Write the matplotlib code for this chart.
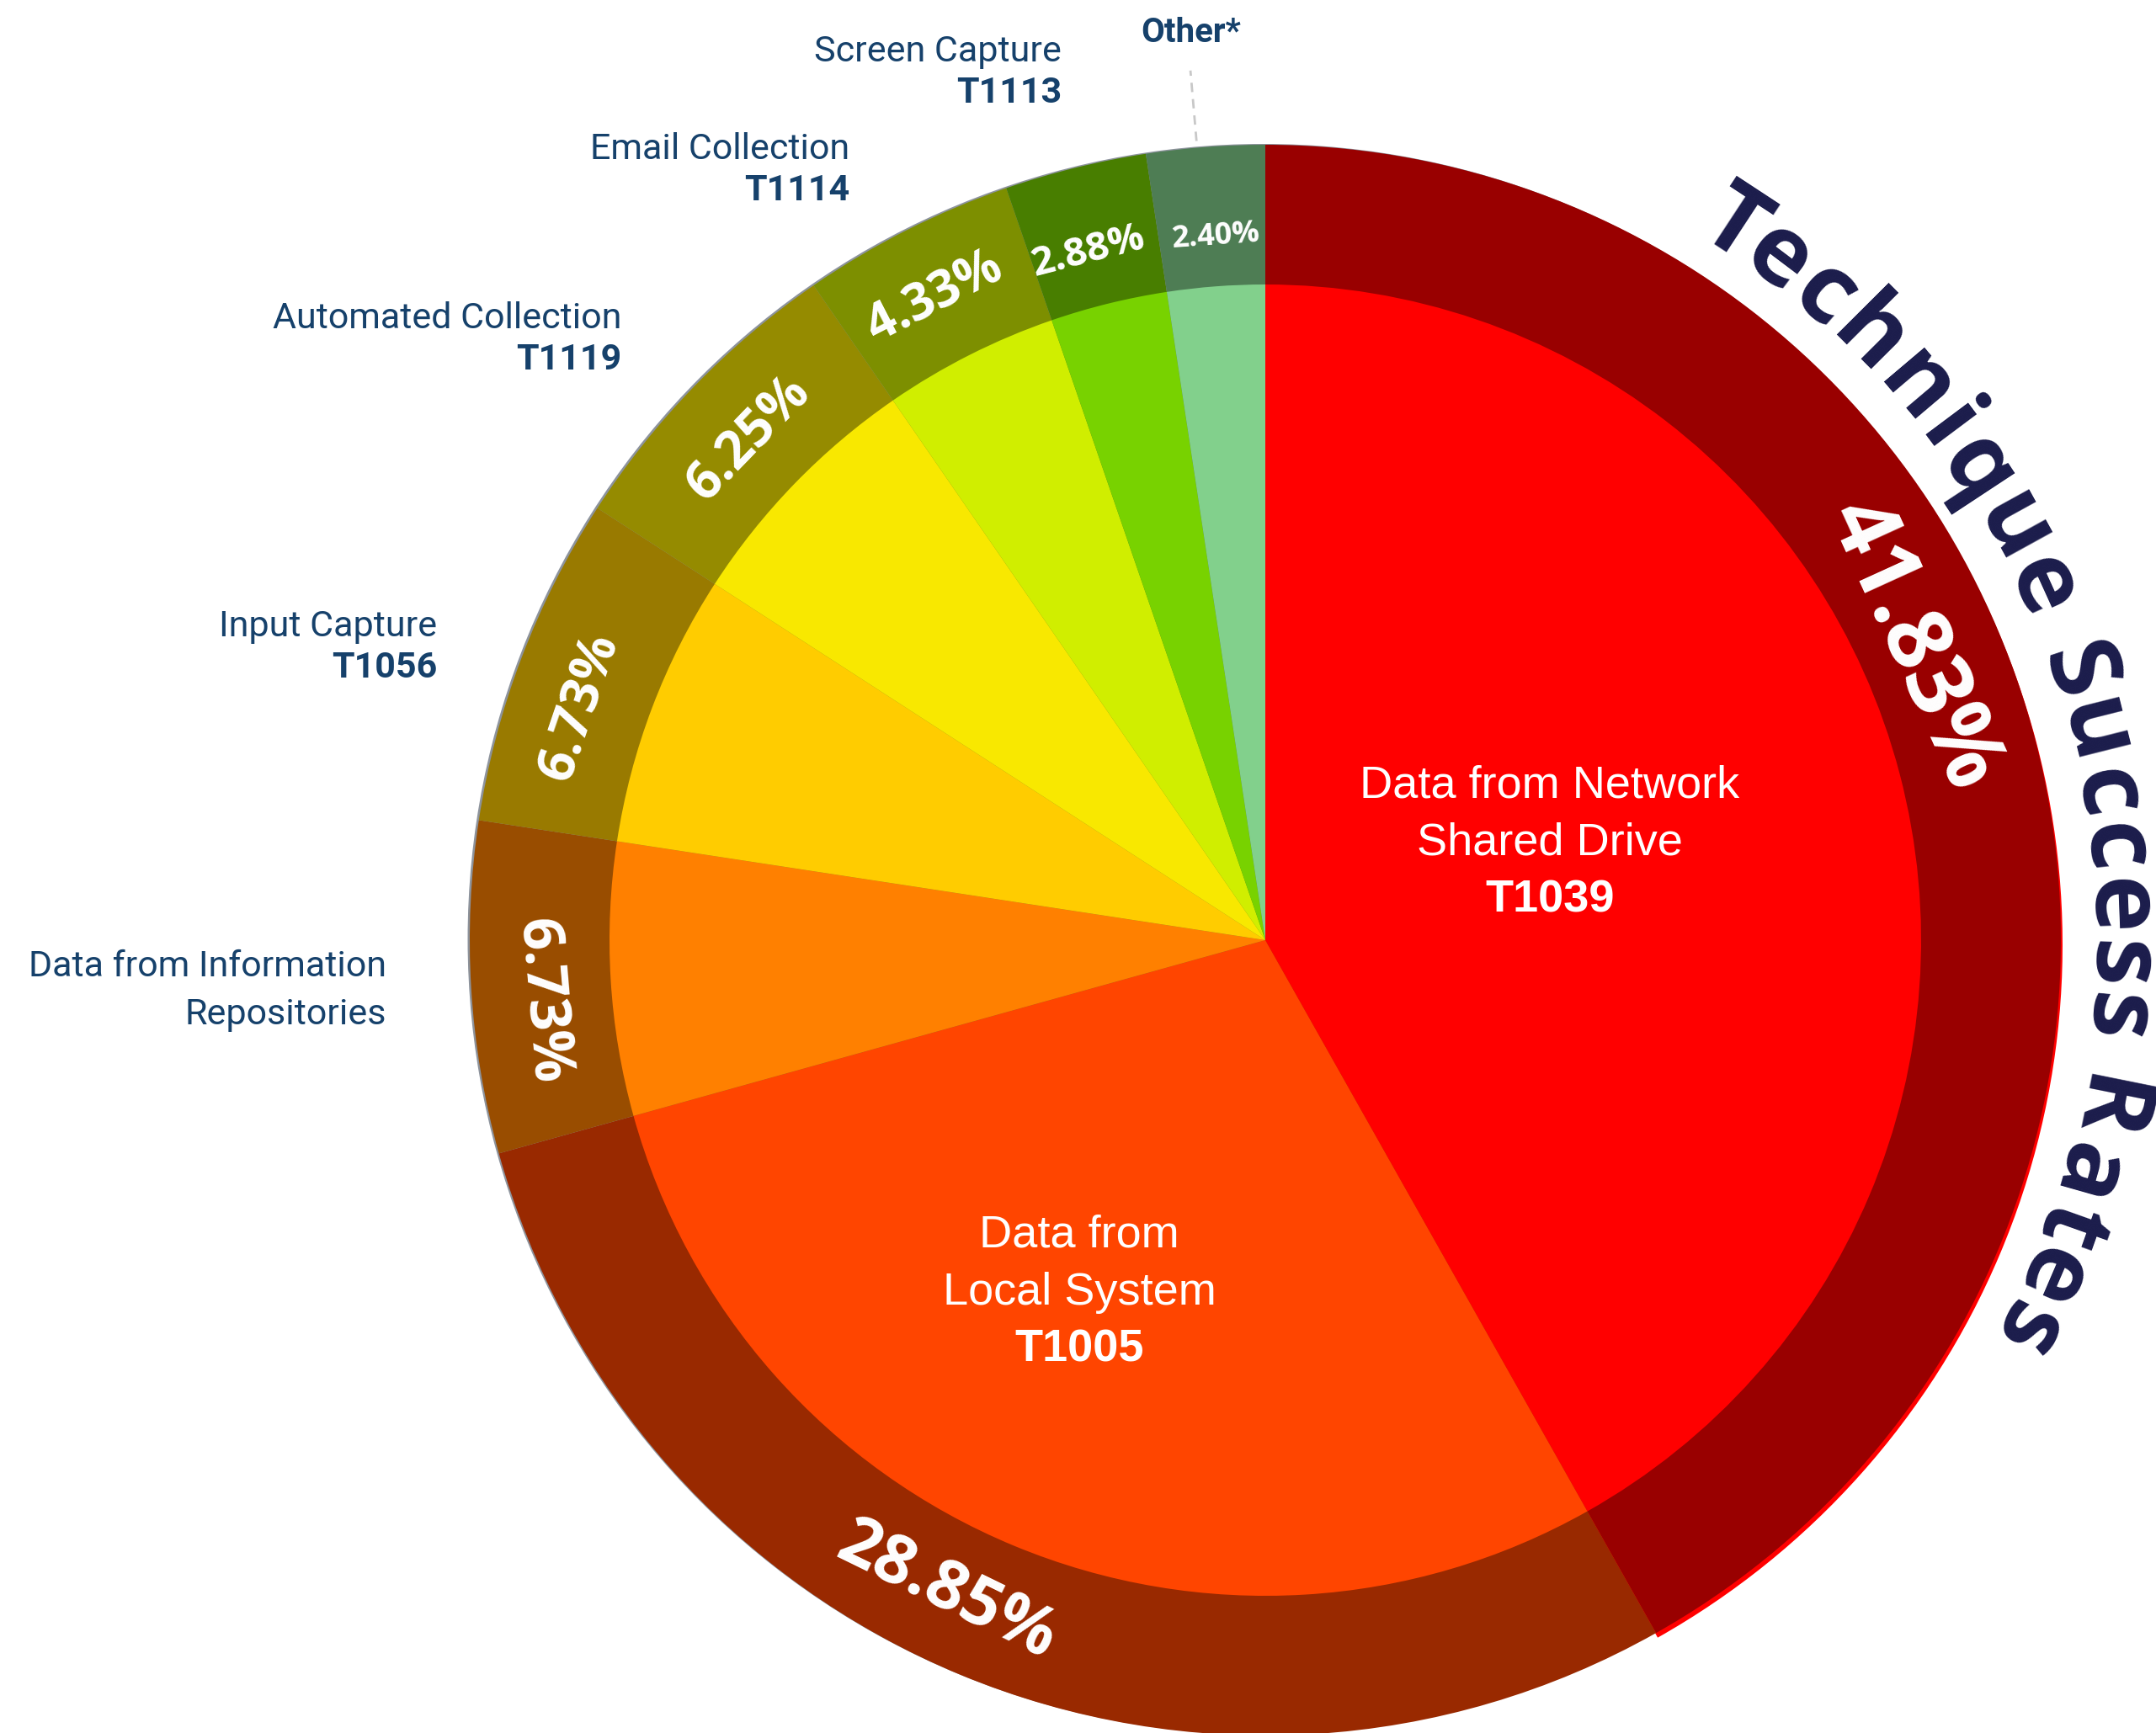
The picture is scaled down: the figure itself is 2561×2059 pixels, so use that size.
import numpy as np
import matplotlib.pyplot as plt
from matplotlib.patches import Wedge, Circle
from matplotlib.colors import to_rgb
from matplotlib.font_manager import FontProperties

# ---- data ----
shares = [41.83, 28.85, 6.73, 6.73, 6.25, 4.33, 2.88, 2.40]
techniques = [
    "Data from Network\nShared Drive",
    "Data from\nLocal System",
    "Data from Information\nRepositories",
    "Input Capture",
    "Automated Collection",
    "Email Collection",
    "Screen Capture",
    "Other*",
]
codes = ["T1039", "T1005", "", "T1056", "T1119", "T1114", "T1113", ""]
title = "Technique Success Rates"

# ---- style ----
bright = ["#ff0000", "#ff4500", "#ff8000", "#ffcc00", "#f8e800", "#d0ee00", "#78d200", "#82d08c"]
dark = [tuple(0.6 * c for c in to_rgb(b)) for b in bright]
pct_size = [76, 58, 49, 45, 45, 43, 34, 26]
pct_nudge = [9.8, -3.5, 1.4, 2.0, 0.0, 0.4, 0.6, -0.3]
pct_r = [845, 862, 862, 860, 855, 858, 845, 838]
label_color = "#16416b"
title_color = "#1b1c4b"

W, H = 2561, 2059
fig = plt.figure(figsize=(W / 100, H / 100), dpi=100)
ax = fig.add_axes([0, 0, 1, 1])

cx, cy = 1503, H - 1117
R_OUT, R_IN = 945, 779

frac = np.array(shares) / sum(shares)
ends = 90 - 360 * np.cumsum(frac)
starts = ends + 360 * frac
mids = (starts + ends) / 2

# grey rim on the left, red sliver peeking out bottom right
ax.add_patch(Circle((cx - 2.5, cy + 1), R_OUT, color="#8d939c", lw=0, zorder=0.4))
ax.add_patch(Wedge((cx + 2, cy - 5.5), R_OUT, ends[0], starts[0], color=bright[0], lw=0, zorder=0.5))

ax.pie(shares, radius=R_OUT, center=(cx, cy), startangle=90, counterclock=False,
       colors=dark, wedgeprops=dict(linewidth=0))
ax.pie(shares, radius=R_IN, center=(cx, cy), startangle=90, counterclock=False,
       colors=bright, wedgeprops=dict(linewidth=0))

# percentages along the outer ring
for i, s in enumerate(shares):
    a = mids[i] + pct_nudge[i]
    t = np.radians(a)
    rot = a + 90 if np.sin(t) < 0 else a - 90
    ax.text(cx + pct_r[i] * np.cos(t), cy + pct_r[i] * np.sin(t), f"{s:.2f}%",
            rotation=rot, rotation_mode="anchor", ha="center", va="center",
            color="white", fontsize=pct_size[i], fontweight="bold",
            family=["Open Sans", "Lato"], zorder=5)

# labels inside the two big slices
narrow = ["Liberation Sans Narrow", "Liberation Sans"]
inner_xy = [(1841, 1083), (1282, 1618)]  # centre x, baseline of code line (image px)
for i, (x, yb) in enumerate(inner_xy):
    lines = techniques[i].split("\n")
    ax.text(x, H - yb, codes[i], ha="center", va="baseline", color="white",
            fontsize=39, fontweight="bold", family=narrow, zorder=5)
    for k, line in enumerate(reversed(lines)):
        ax.text(x, H - (yb - 68 * (k + 1)), line, ha="center", va="baseline",
                color="white", fontsize=39, family=narrow, zorder=5)

# labels outside, right aligned
outer_xy = {2: (459, 1217), 3: (519, 805), 4: (738, 439), 5: (1009, 238), 6: (1261, 122)}
for i, (x, yb) in outer_xy.items():
    lines = techniques[i].split("\n")
    y = yb
    if codes[i]:
        ax.text(x, H - y, codes[i], ha="right", va="baseline", color=label_color,
                fontsize=31, fontweight="bold", family="Roboto")
        y -= 49
    for line in reversed(lines):
        ax.text(x, H - y, line, ha="right", va="baseline", color=label_color,
                fontsize=31, family="Roboto")
        y -= 57

# Other* with dashed leader
ax.text(1415, H - 50, techniques[7], ha="center", va="baseline", color=label_color,
        fontsize=29, fontweight="bold", family="Roboto")
t = np.radians(mids[7] + 0.6)
ax.plot([cx + (R_OUT + 8) * np.cos(t), cx + (R_OUT + 92) * np.cos(t)],
        [cy + (R_OUT + 8) * np.sin(t), cy + (R_OUT + 92) * np.sin(t)],
        color="#c8c8c8", lw=2, ls=(0, (4, 3)))

# curved title around the right side
renderer = fig.canvas.get_renderer()
fp = FontProperties(family=["Open Sans", "Lato"], weight="bold", size=83)


def tw(s):
    return renderer.get_text_width_height_descent(s, fp, ismath=False)[0]


rb, r_space = 982, 1008
span_start, span_end = 58.6, -28.8  # degrees covered by the title
L = tw(title)
target = np.radians(span_start - span_end) * r_space
track = (target - L) / (len(title) - 1)
for i, ch in enumerate(title):
    if ch == " ":
        continue
    c = tw(title[: i + 1]) - tw(ch) / 2 + track * i
    a = span_start - np.degrees(c / r_space)
    t = np.radians(a)
    ax.text(cx + rb * np.cos(t), cy + rb * np.sin(t), ch, rotation=a - 90,
            rotation_mode="anchor", ha="center", va="baseline",
            fontproperties=fp, color=title_color)

ax.set_xlim(0, W)
ax.set_ylim(0, H)
ax.set_aspect("equal")
ax.axis("off")
fig.savefig("out.png", dpi=100, facecolor="white")
